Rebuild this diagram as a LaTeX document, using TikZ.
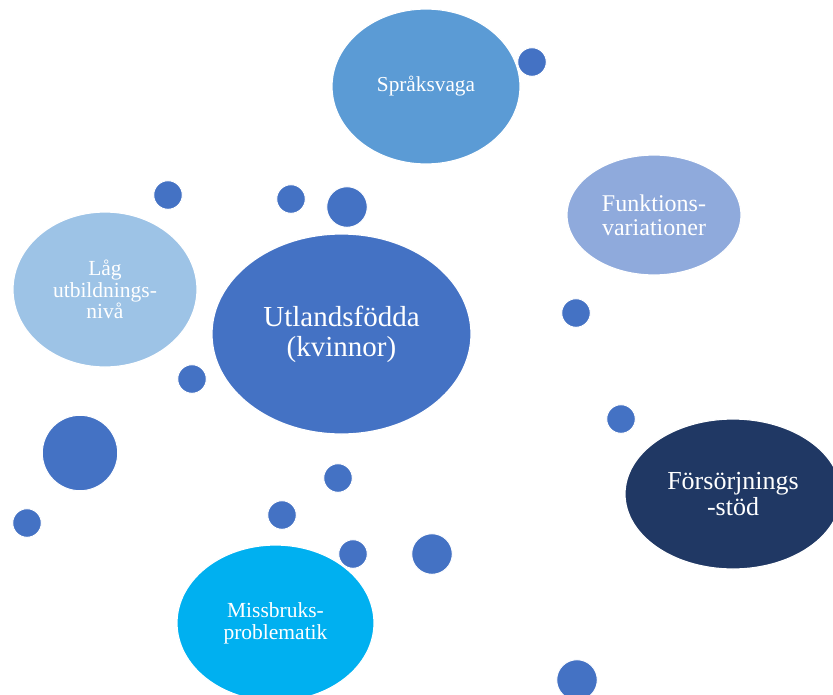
\documentclass[tikz,border=0pt]{standalone}
\usepackage{fontspec}
\setmainfont{Liberation Serif}
\usetikzlibrary{shapes.geometric}
\definecolor{cmain}{HTML}{4472C4}
\definecolor{cspr}{HTML}{5B9BD5}
\definecolor{cfun}{HTML}{8FAADC}
\definecolor{clag}{HTML}{9DC3E6}
\definecolor{cfor}{HTML}{203864}
\definecolor{cmis}{HTML}{00B0F0}
\tikzset{
  bubble/.style={ellipse, draw=white, line width=1.2pt, inner sep=0pt, text=white, align=center},
  dot/.style={circle, fill=cmain, draw=white, line width=1pt, inner sep=0pt, minimum size=#1},
  dot/.default=28.6pt,
}
\begin{document}
\begin{tikzpicture}[x=1pt,y=-1pt]
\useasboundingbox (0,0) rectangle (833,694);
\clip (0,0) rectangle (833,694);
\node[bubble, fill=cmain, minimum width=259pt, minimum height=200pt, font=\fontsize{29}{30}\selectfont] (utl) at (341.5,334) {Utlandsfödda\\(kvinnor)};
\node[bubble, fill=cspr, minimum width=188pt, minimum height=155pt, font=\fontsize{21.3}{22}\selectfont] (spr) at (426,86.5) {Språksvaga};
\node[bubble, fill=cfun, minimum width=174pt, minimum height=120pt, font=\fontsize{24}{24}\selectfont] (fun) at (654,215) {Funktions-\\variationer};
\node[bubble, fill=clag, minimum width=184pt, minimum height=155pt, font=\fontsize{21.5}{21.5}\selectfont] (lag) at (105,289.5) {Låg\\utbildnings-\\nivå};
\node[bubble, fill=cfor, minimum width=216pt, minimum height=150pt, font=\fontsize{26}{26}\selectfont] (for) at (733,494) {Försörjnings\\-stöd};
\node[bubble, fill=cmis, minimum width=197pt, minimum height=156pt, font=\fontsize{21.5}{22}\selectfont] (mis) at (275.5,623) {Missbruks-\\problematik};
\node[dot] (d1) at (532,62) {};
\node[dot] (d2) at (168,195) {};
\node[dot] (d3) at (291,199) {};
\node[dot=40.6pt] (d4) at (347,207) {};
\node[dot] (d5) at (576,313) {};
\node[dot] (d6) at (192,379) {};
\node[dot] (d7) at (621,419) {};
\node[dot=75.4pt] (d8) at (80,453) {};
\node[dot] (d9) at (27,523) {};
\node[dot] (d10) at (338,478) {};
\node[dot] (d11) at (282,515) {};
\node[dot] (d12) at (353,554) {};
\node[dot=40.6pt] (d13) at (432,554) {};
\node[dot=40.6pt] (d14) at (577,680) {};
\end{tikzpicture}
\end{document}
